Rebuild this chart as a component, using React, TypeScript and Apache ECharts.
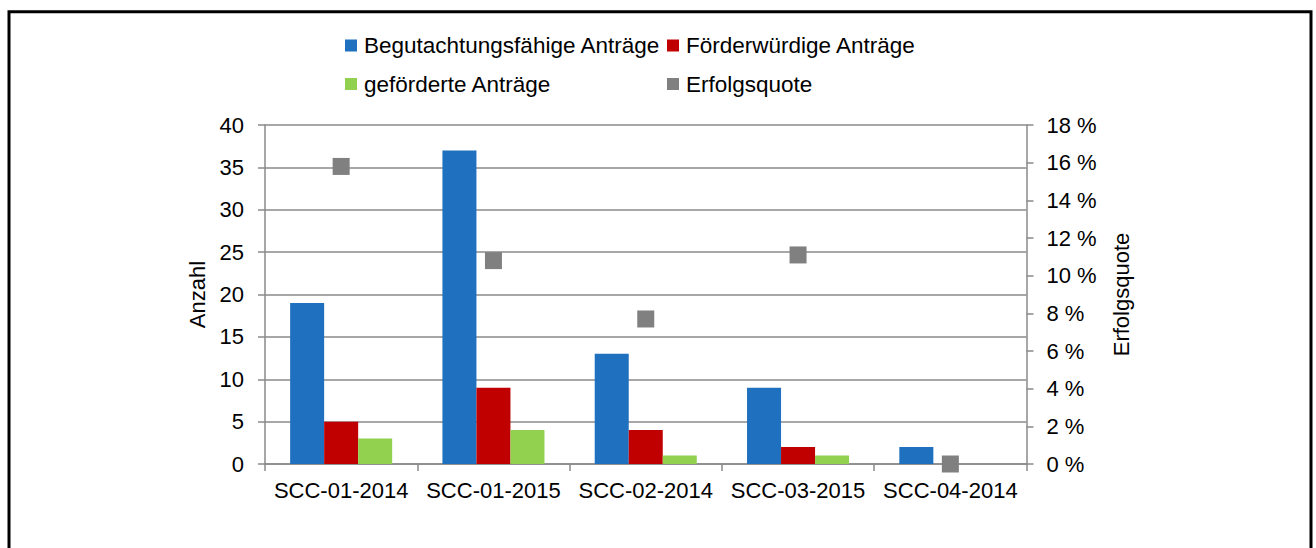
import React, { useEffect, useRef } from "react";
import * as echarts from "echarts";

const categories = ["SCC-01-2014", "SCC-01-2015", "SCC-02-2014", "SCC-03-2015", "SCC-04-2014"];
const begutachtungsfaehig = [19, 37, 13, 9, 2];
const foerderwuerdig = [5, 9, 4, 2, 0];
const gefoerdert = [3, 4, 1, 1, 0];
const erfolgsquote = [15.8, 10.8, 7.7, 11.1, 0];

const seriesNames = [
  "Begutachtungsfähige Anträge",
  "Förderwürdige Anträge",
  "geförderte Anträge",
  "Erfolgsquote",
];
const colors = ["#1F70BE", "#C00000", "#92D050", "#808080"];

const FONT = "'Liberation Sans', Arial, sans-serif";
const AXIS_COLOR = "#8A8A8A";

export default function App() {
  const ref = useRef<HTMLDivElement>(null);
  useEffect(() => {
    document.body.style.margin = "0";
    if (!ref.current) return;
    const chart = echarts.init(ref.current, null, { renderer: "svg" });
    const legendText = { fontFamily: FONT, fontSize: 22.5, color: "#000", lineHeight: 22, padding: [0, 0, 0, 2] };
    chart.setOption({
      animation: false,
      textStyle: { fontFamily: FONT },
      color: colors,
      graphic: [
        {
          type: "rect",
          shape: { x: 9, y: 11.7, width: 1302, height: 600 },
          style: { fill: "none", stroke: "#000", lineWidth: 3 },
          silent: true,
        },
      ],
      legend: [
        {
          orient: "vertical",
          left: 345,
          top: 34,
          icon: "rect",
          itemWidth: 12,
          itemHeight: 12,
          itemGap: 15.5,
          padding: 0,
          textStyle: legendText,
          data: [seriesNames[0], seriesNames[2]],
        },
        {
          orient: "vertical",
          left: 667,
          top: 34,
          icon: "rect",
          itemWidth: 12,
          itemHeight: 12,
          itemGap: 15.5,
          padding: 0,
          textStyle: legendText,
          data: [seriesNames[1], seriesNames[3]],
        },
      ],
      grid: { left: 265, right: 289.5, top: 125, bottom: 84, containLabel: false },
      xAxis: {
        type: "category",
        data: categories,
        boundaryGap: true,
        axisLine: { lineStyle: { color: AXIS_COLOR, width: 1.5 } },
        axisTick: { show: true, length: 7, alignWithLabel: false, lineStyle: { color: AXIS_COLOR, width: 1.5 } },
        axisLabel: { color: "#000", fontSize: 22, margin: 15, fontFamily: FONT, interval: 0 },
      },
      yAxis: [
        {
          type: "value",
          min: 0,
          max: 40,
          interval: 5,
          name: "Anzahl",
          nameLocation: "middle",
          nameGap: 55,
          nameTextStyle: { color: "#000", fontSize: 22, fontFamily: FONT },
          axisLine: { show: true, lineStyle: { color: AXIS_COLOR, width: 1.5 } },
          axisTick: { show: true, length: 7, lineStyle: { color: AXIS_COLOR, width: 1.5 } },
          axisLabel: { color: "#000", fontSize: 22, margin: 21, fontFamily: FONT },
          splitLine: { show: true, lineStyle: { color: AXIS_COLOR, width: 1.5 } },
        },
        {
          type: "value",
          position: "right",
          min: 0,
          max: 18,
          interval: 2,
          name: "Erfolgsquote",
          nameLocation: "middle",
          nameGap: 84,
          nameTextStyle: { color: "#000", fontSize: 22, fontFamily: FONT },
          axisLine: { show: true, lineStyle: { color: AXIS_COLOR, width: 1.5 } },
          axisTick: { show: true, length: 7, lineStyle: { color: AXIS_COLOR, width: 1.5 } },
          axisLabel: { color: "#000", fontSize: 22, margin: 20, fontFamily: FONT, formatter: "{value} %" },
          splitLine: { show: false },
        },
      ],
      series: [
        {
          name: seriesNames[0],
          type: "bar",
          data: begutachtungsfaehig,
          barGap: "0%",
          barCategoryGap: "33%",
          itemStyle: { color: colors[0] },
        },
        {
          name: seriesNames[1],
          type: "bar",
          data: foerderwuerdig,
          itemStyle: { color: colors[1] },
        },
        {
          name: seriesNames[2],
          type: "bar",
          data: gefoerdert,
          itemStyle: { color: colors[2] },
        },
        {
          name: seriesNames[3],
          type: "scatter",
          yAxisIndex: 1,
          data: erfolgsquote,
          symbol: "rect",
          symbolSize: 17,
          z: 5,
          itemStyle: { color: colors[3], opacity: 1 },
        },
      ],
    });
    return () => chart.dispose();
  }, []);
  return <div ref={ref} style={{ width: 1316, height: 548 }} />;
}
